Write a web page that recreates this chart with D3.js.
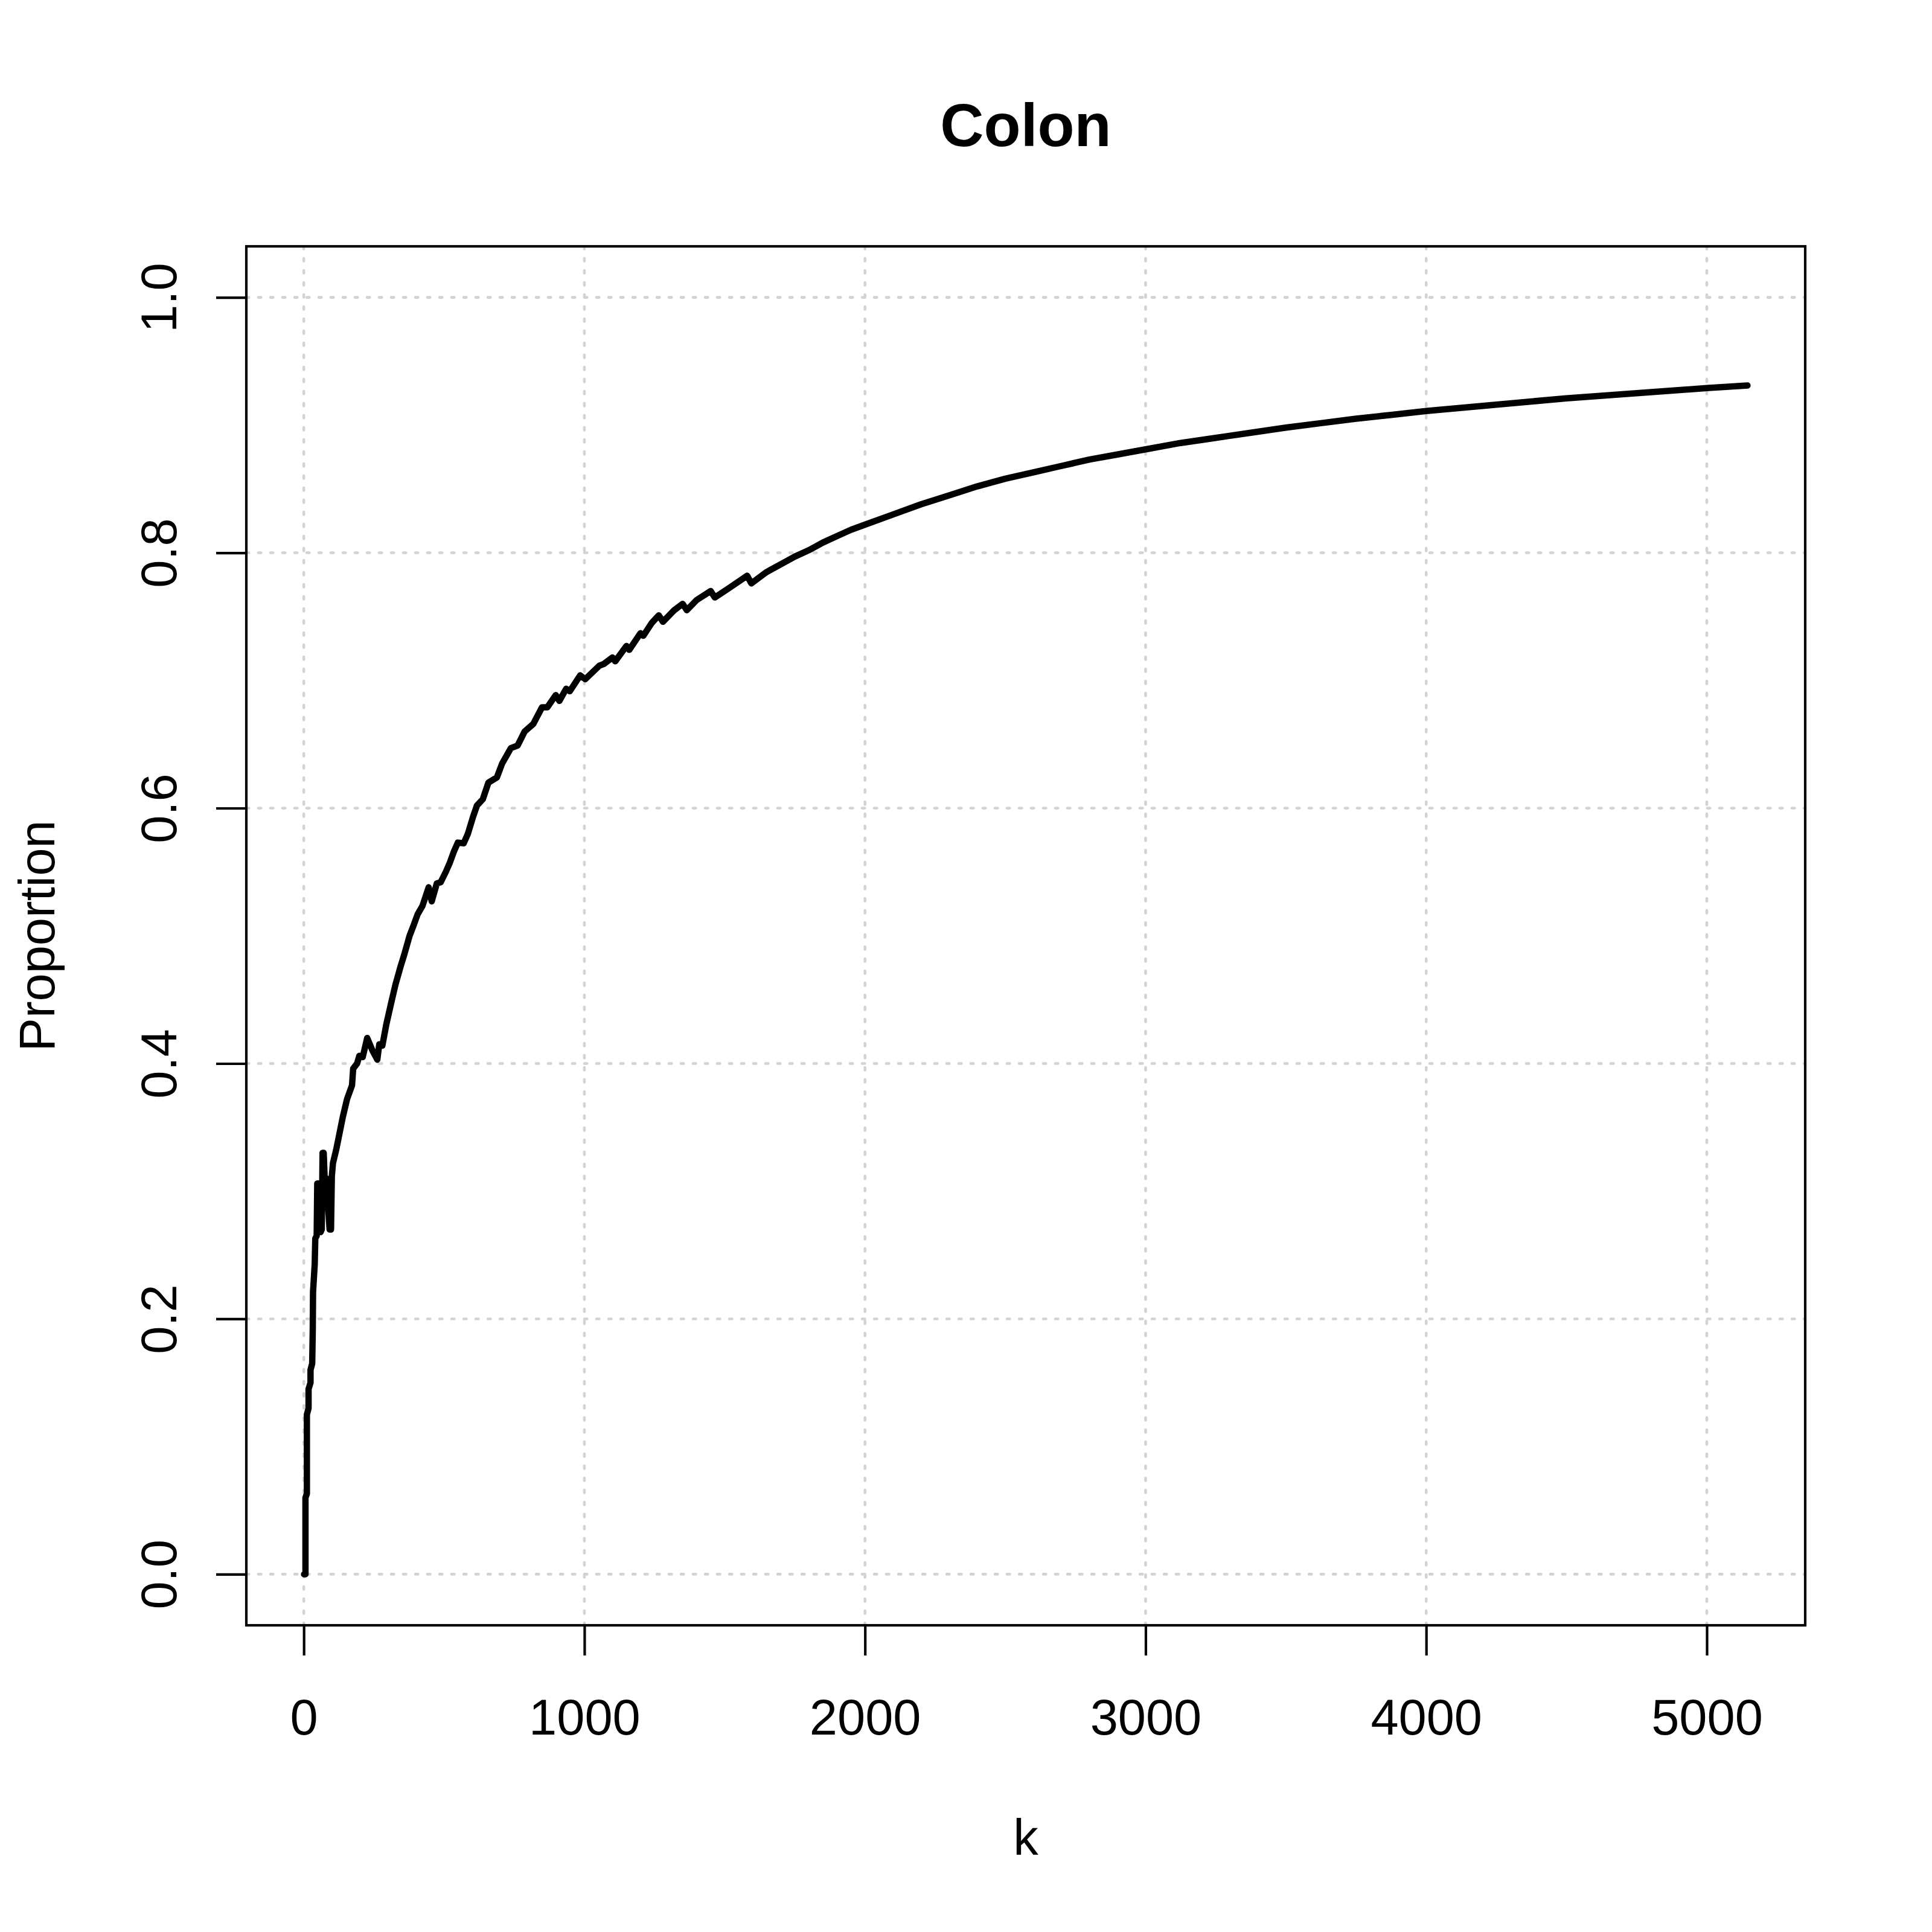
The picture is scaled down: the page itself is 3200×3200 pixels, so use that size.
<!DOCTYPE html>
<html>
<head>
<meta charset="utf-8">
<style>
  body { margin: 0; background: white; }
  svg { display: block; font-family: "Liberation Sans", Arial, Helvetica, sans-serif; }
</style>
<script src="https://cdn.jsdelivr.net/npm/d3@7"></script>
</head>
<body>
<svg id="chart"></svg>
<script>
// curve values (k, proportion)
const kValues = [1, 6, 6, 11, 11, 17, 17, 24, 24, 30, 32, 33, 39, 41, 46, 48, 57, 60, 64, 67,
  71, 76, 80, 92, 97, 100, 104, 116, 139, 154, 172, 176, 190, 198, 210, 226, 245, 262, 269, 280,
  294, 312, 327, 345, 359, 377, 391, 406, 423, 445, 456, 474, 488, 506, 520, 535, 549, 570, 585, 603,
  617, 638, 658, 688, 707, 738, 762, 787, 818, 849, 868, 898, 911, 935, 948, 985, 1003, 1053, 1070, 1100,
  1110, 1150, 1160, 1200, 1210, 1240, 1265, 1280, 1320, 1350, 1365, 1400, 1450, 1465, 1520, 1580, 1595, 1650,
  1700, 1750, 1800, 1850, 1900, 1950, 2000, 2100, 2200, 2300, 2400, 2500, 2600, 2700, 2800, 2900, 3000, 3125,
  3250, 3375, 3500, 3625, 3750, 3875, 4000, 4125, 4250, 4375, 4500, 4625, 4750, 4875, 5000, 5145];
const proportions = [0, 0, 0.06, 0.063, 0.125, 0.13, 0.145, 0.15, 0.16, 0.165, 0.192, 0.221, 0.243, 0.263, 0.265, 0.306, 0.306, 0.268, 0.27, 0.33,
  0.33, 0.30, 0.31, 0.27, 0.27, 0.312, 0.322, 0.333, 0.358, 0.372, 0.383, 0.396, 0.40, 0.406, 0.405, 0.420, 0.41, 0.403, 0.415, 0.414,
  0.4305, 0.448, 0.462, 0.476, 0.486, 0.50, 0.508, 0.517, 0.5235, 0.538, 0.527, 0.541, 0.542, 0.550, 0.557, 0.566, 0.573, 0.5725, 0.580, 0.593,
  0.602, 0.607, 0.620, 0.624, 0.635, 0.647, 0.649, 0.660, 0.666, 0.679, 0.679, 0.6885, 0.684, 0.6935, 0.6916, 0.704, 0.701, 0.7115, 0.713, 0.718,
  0.715, 0.727, 0.724, 0.737, 0.735, 0.745, 0.751, 0.746, 0.755, 0.760, 0.755, 0.763, 0.770, 0.765, 0.773, 0.782, 0.776, 0.785,
  0.791, 0.797, 0.802, 0.808, 0.813, 0.818, 0.822, 0.830, 0.838, 0.845, 0.852, 0.858, 0.863, 0.868, 0.873, 0.877, 0.881, 0.886,
  0.890, 0.894, 0.898, 0.9015, 0.905, 0.908, 0.911, 0.9135, 0.916, 0.9185, 0.921, 0.923, 0.925, 0.927, 0.929, 0.931];

const xTicks = [0, 1000, 2000, 3000, 4000, 5000];
const yTicks = [0, 0.2, 0.4, 0.6, 0.8, 1.0];
const yTickLabels = ["0.0", "0.2", "0.4", "0.6", "0.8", "1.0"];

const W = 3200, H = 3200;
const box = {left: 408, right: 2990, top: 408, bottom: 2692};

const svg = d3.select("#chart").attr("width", W).attr("height", H);
svg.append("rect").attr("width", W).attr("height", H).attr("fill", "white");

// R style 4% padding on the x range
const kMin = d3.min(kValues), kMax = d3.max(kValues);
const pad = (kMax - kMin) * 0.04;
const x = d3.scaleLinear().domain([kMin - pad, kMax + pad]).range([box.left, box.right]);
const y = d3.scaleLinear().domain([-0.04, 1.04]).range([box.bottom, box.top]);

// grid
const grid = svg.append("g")
  .attr("stroke", "#d3d3d3")
  .attr("stroke-width", 4.6)
  .attr("stroke-dasharray", "4.4 15.6")
  .attr("stroke-linecap", "round");
grid.selectAll("line.v").data(xTicks).enter().append("line")
  .attr("x1", d => x(d)).attr("x2", d => x(d))
  .attr("y1", box.top).attr("y2", box.bottom);
grid.selectAll("line.h").data(yTicks).enter().append("line")
  .attr("x1", box.left).attr("x2", box.right)
  .attr("y1", d => y(d)).attr("y2", d => y(d));

// axes
const xAxis = svg.append("g")
  .attr("transform", `translate(0,${box.bottom})`)
  .call(d3.axisBottom(x).tickValues(xTicks).tickSize(50).tickPadding(72).tickFormat(d3.format("d")));
const yAxis = svg.append("g")
  .attr("transform", `translate(${box.left},0)`)
  .call(d3.axisLeft(y).tickValues(yTicks).tickSize(50).tickFormat((d, i) => yTickLabels[i]));

[xAxis, yAxis].forEach(a => {
  a.select(".domain").remove();
  a.selectAll(".tick line").attr("stroke", "black").attr("stroke-width", 4.2);
  a.selectAll(".tick text").attr("fill", "black").attr("font-size", 83)
    .attr("font-family", "'Liberation Sans', Arial, sans-serif");
});
yAxis.selectAll(".tick text")
  .attr("x", null).attr("dy", null)
  .attr("text-anchor", "middle")
  .attr("transform", "translate(-116,0) rotate(-90)");

// curve
const line = d3.line().x(d => x(d[0])).y(d => y(d[1]));
svg.append("path")
  .datum(kValues.map((k, i) => [k, proportions[i]]))
  .attr("d", line)
  .attr("fill", "none")
  .attr("stroke", "black")
  .attr("stroke-width", 10.5)
  .attr("stroke-linejoin", "round")
  .attr("stroke-linecap", "round");

// box
svg.append("rect")
  .attr("x", box.left).attr("y", box.top)
  .attr("width", box.right - box.left).attr("height", box.bottom - box.top)
  .attr("fill", "none").attr("stroke", "black").attr("stroke-width", 4.2);

// titles
svg.append("text")
  .attr("x", (box.left + box.right) / 2).attr("y", 242)
  .attr("text-anchor", "middle").attr("font-size", 100).attr("font-weight", "bold")
  .text("Colon");
svg.append("text")
  .attr("x", (box.left + box.right) / 2).attr("y", 3072)
  .attr("text-anchor", "middle").attr("font-size", 83)
  .text("k");
svg.append("text")
  .attr("transform", `translate(90,${(box.top + box.bottom) / 2}) rotate(-90)`)
  .attr("text-anchor", "middle").attr("font-size", 83)
  .text("Proportion");
</script>
</body>
</html>
